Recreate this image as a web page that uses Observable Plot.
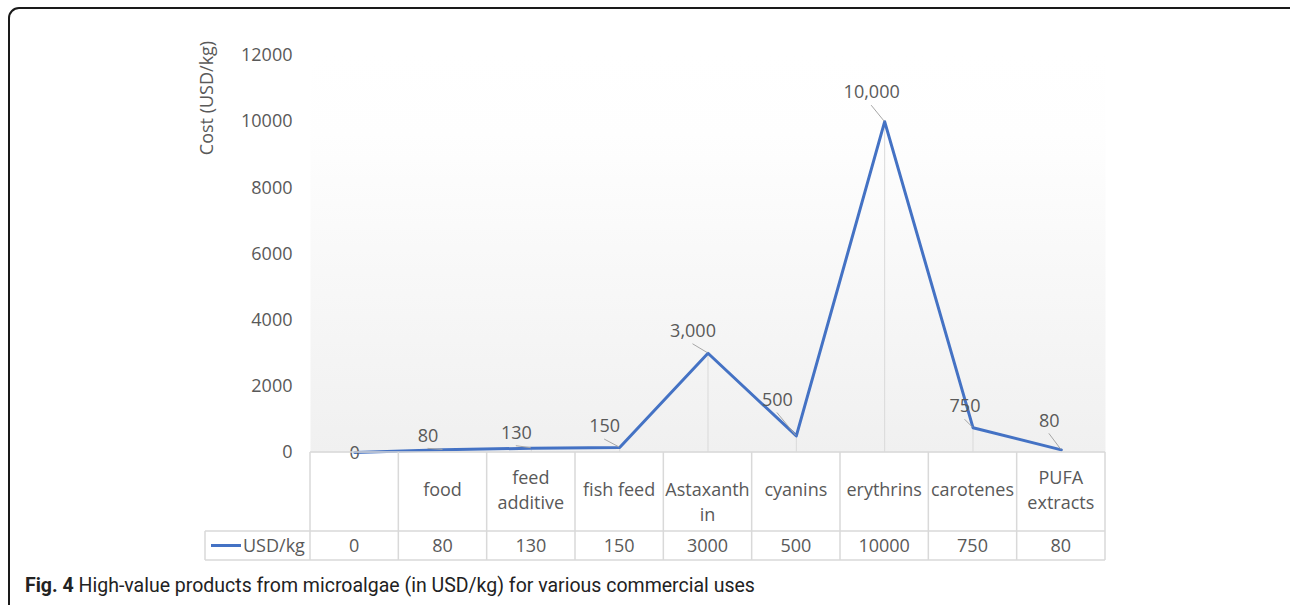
<!DOCTYPE html>
<html><head><meta charset="utf-8">
<script src="https://cdn.jsdelivr.net/npm/d3@7"></script>
<script src="https://cdn.jsdelivr.net/npm/@observablehq/plot@0.6"></script>
<style>
body{margin:0;background:#fff;width:1290px;height:605px;overflow:hidden;position:relative;font-family:"Open Sans",sans-serif}
#frame{position:absolute;left:8px;top:7px;width:1300px;height:620px;border:2px solid #1a1a1a;border-radius:11px;box-sizing:border-box}
#chart{position:absolute;left:0;top:0}
#caption{position:absolute;left:25px;top:574px;font-family:Roboto,sans-serif;font-size:19.5px;color:#222;white-space:nowrap;line-height:1.2}
</style></head><body>
<div id="frame"></div>
<svg width="0" height="0" style="position:absolute"><defs><linearGradient id="bg" x1="0" y1="0" x2="0" y2="1"><stop offset="0" stop-color="#ffffff"/><stop offset="0.2" stop-color="#fefefe"/><stop offset="1" stop-color="#f0f0f0"/></linearGradient></defs></svg>
<div id="chart"></div>
<div id="caption"><b>Fig. 4</b> High-value products from microalgae (in USD/kg) for various commercial uses</div>
<script>
const categories = ["", "food", "feed additive", "fish feed", "Astaxanthin", "cyanins", "erythrins", "carotenes", "PUFA extracts"];
const values = [0, 80, 130, 150, 3000, 500, 10000, 750, 80];
const yTicks = [0, 2000, 4000, 6000, 8000, 10000, 12000];
const seriesName = "USD/kg";
const yLabel = "Cost (USD/kg)";
// label nudges (layout only): offset of each data label from its point, in px
const labelNudges = [[0,1],[-15,-14],[-15,-15],[-15,-21],[-15,-22],[-19,-36],[-13,-29],[-8,-21],[-12,-29]];

(function () {
const data = categories.map((c, i) => ({i, category: c, value: values[i]}));
const FONT = '"Open Sans", sans-serif';
const TXT = "#595959";
const BLUE = "#4472c4";
const GRID = "#d9d9d9";
const fmt = d3.format(",");

const labelMarks = data.map((d, k) => Plot.text([d], {
  x: "i", y: "value", text: dd => fmt(dd.value),
  dx: labelNudges[k][0], dy: labelNudges[k][1],
  fill: TXT, fontSize: 18
}));

const plot = Plot.plot({
  width: 1290, height: 570,
  marginLeft: 310, marginRight: 185, marginTop: 55, marginBottom: 118,
  style: {fontFamily: FONT, fontSize: "18px", color: TXT, background: "transparent", overflow: "visible"},
  x: {domain: [-0.5, categories.length - 0.5], axis: null},
  y: {domain: [0, 12000]},
  marks: [
    Plot.frame({fill: "url(#bg)", stroke: "none"}),
    Plot.axisY(yTicks, {tickSize: 0, tickPadding: 18, fontSize: 18, fill: TXT, label: null, tickFormat: d => String(d)}),
    Plot.ruleX(data, {x: "i", y1: 0, y2: "value", stroke: GRID, strokeWidth: 1}),
    Plot.line(data, {x: "i", y: "value", stroke: BLUE, strokeWidth: 3}),
    ...labelMarks
  ]
});
document.getElementById("chart").appendChild(plot);

const xs = plot.scale("x"), ys = plot.scale("y");
const X = v => xs.apply(v), Y = v => ys.apply(v);
const svg = d3.select(plot);
const g = svg.append("g").attr("font-family", FONT).attr("font-size", 18).attr("fill", TXT);

// leader lines
data.forEach((d, k) => {
  const px = X(d.i), py = Y(d.value);
  const lx = px + labelNudges[k][0], ly = py + labelNudges[k][1] + 13;
  if (ly < py - 0.5 && Math.hypot(px - lx, py - ly) > 4) {
    g.append("line").attr("x1", lx).attr("y1", ly).attr("x2", px).attr("y2", py)
      .attr("stroke", "#a6a6a6").attr("stroke-width", 1);
  }
});

// y label
const plotTop = Y(12000);
g.append("text").attr("transform", `translate(${X(-0.5) - 103},${plotTop + 43}) rotate(-90)`)
  .attr("text-anchor", "middle").attr("dy", "0.32em").text(yLabel);

// data table
const tTop = Y(0), row1 = 79, row2 = 29;
const r1b = tTop + row1, r2b = r1b + row2;
const tLeft = X(-0.5), tRight = X(categories.length - 0.5), legLeft = tLeft - 105;
const lines = g.append("g").attr("stroke", GRID).attr("stroke-width", 1.5);
lines.append("line").attr("x1", tLeft).attr("x2", tRight).attr("y1", tTop).attr("y2", tTop);
[r1b, r2b].forEach(yy => lines.append("line").attr("x1", legLeft).attr("x2", tRight).attr("y1", yy).attr("y2", yy));
for (let k = 0; k <= categories.length; k++) {
  const xx = X(k - 0.5);
  lines.append("line").attr("x1", xx).attr("x2", xx).attr("y1", tTop).attr("y2", r2b);
}
lines.append("line").attr("x1", legLeft).attr("x2", legLeft).attr("y1", r1b).attr("y2", r2b);

// wrap helper
const ctx = document.createElement("canvas").getContext("2d");
ctx.font = '18px "Open Sans"';
const maxW = 85;
function wrap(label) {
  const words = label.split(" ").filter(w => w);
  const out = []; let broken = false; let cur = "";
  for (const w of words) {
    const t = cur ? cur + " " + w : w;
    if (ctx.measureText(t).width <= maxW) { cur = t; continue; }
    if (cur) { out.push(cur); cur = ""; }
    if (ctx.measureText(w).width <= maxW) { cur = w; continue; }
    let piece = "";
    for (const ch of w) {
      if (ctx.measureText(piece + ch).width > maxW) { out.push(piece); piece = ch; broken = true; }
      else piece += ch;
    }
    cur = piece;
  }
  if (cur) out.push(cur);
  return {lines: out, broken};
}
const mid1 = tTop + 38, lh = 24.5;
data.forEach(d => {
  const cx = X(d.i);
  const {lines: ls, broken} = wrap(d.category);
  const y0 = broken ? mid1 : mid1 - (ls.length - 1) * lh / 2;
  ls.forEach((l, j) => g.append("text").attr("x", cx).attr("y", y0 + j * lh).attr("dy", "0.35em")
    .attr("text-anchor", "middle").text(l));
  g.append("text").attr("x", cx).attr("y", r1b + row2 / 2).attr("dy", "0.35em")
    .attr("text-anchor", "middle").text(String(d.value));
});
// legend key
const keyY = r1b + row2 / 2;
g.append("line").attr("x1", legLeft + 6).attr("x2", legLeft + 36).attr("y1", keyY).attr("y2", keyY)
  .attr("stroke", BLUE).attr("stroke-width", 3);
g.append("text").attr("x", legLeft + 38).attr("y", keyY).attr("dy", "0.35em")
  .attr("text-anchor", "start").text(seriesName);
})();
</script>
</body></html>
